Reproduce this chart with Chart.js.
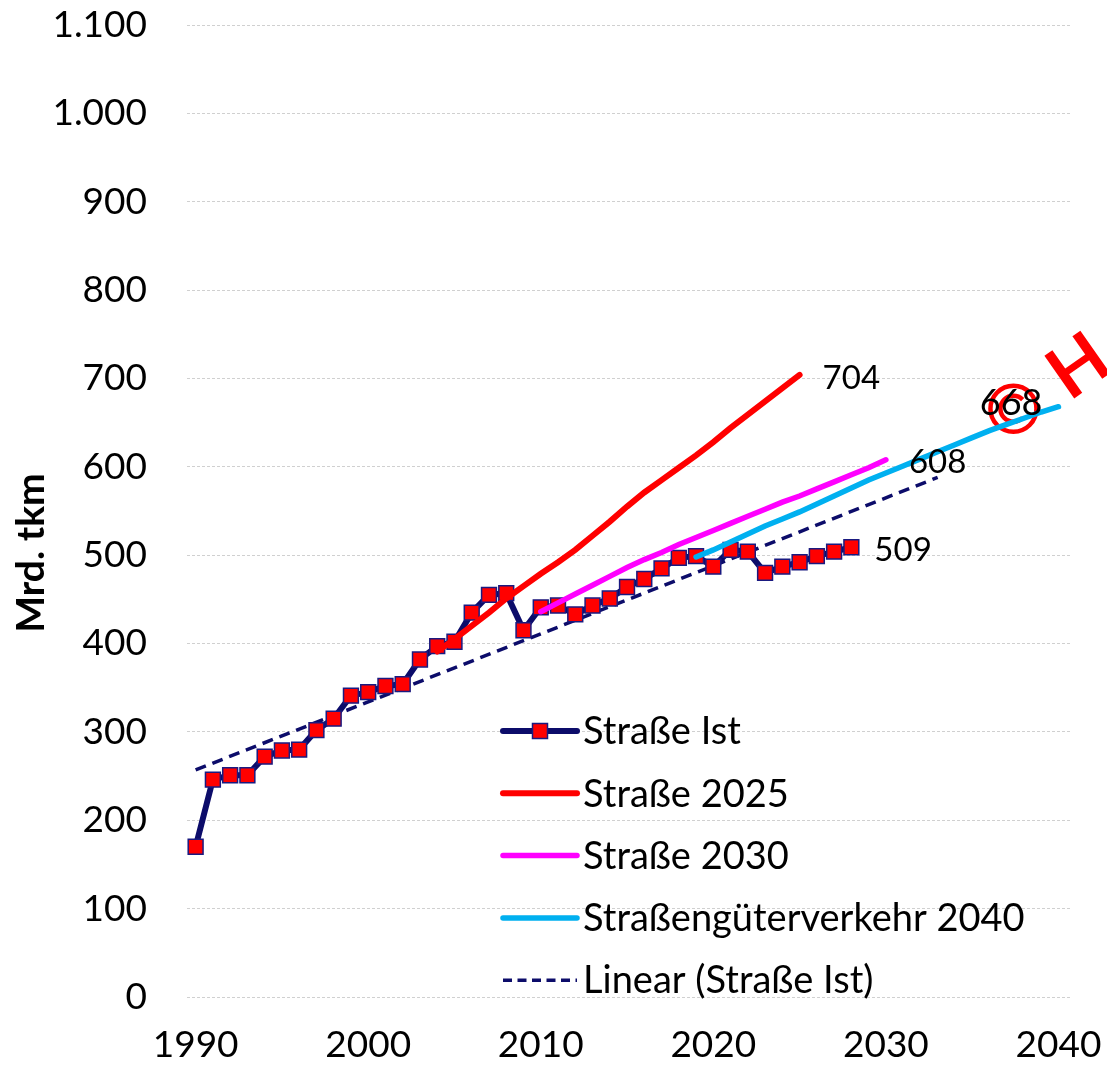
<!DOCTYPE html>
<html>
<head>
<meta charset="utf-8">
<script src="https://cdn.jsdelivr.net/npm/chart.js@4.4.1/dist/chart.umd.min.js"></script>
<style>
  html, body { margin: 0; padding: 0; background: #fff; }
  #wrap { width: 1107px; height: 1071px; }
</style>
</head>
<body>
<div id="wrap"><canvas id="chart" width="1107" height="1071"></canvas></div>
<script>
// Güterverkehr Straße: Ist-Werte, Prognosen und linearer Trend (Mrd. tkm)

const istYears = [1990,1991,1992,1993,1994,1995,1996,1997,1998,1999,2000,2001,2002,2003,2004,2005,2006,2007,2008,2009,
  2010,2011,2012,2013,2014,2015,2016,2017,2018,2019,2020,2021,2022,2023,2024,2025,2026,2027,2028];
const istValues = [170,246,251,251,272,279,280,302,315,341,345,352,354,382,397,402,435,455,457,415,
  441,443,433,443,451,464,473,485,497,499,487,506,504,480,487,492,499,504,509];

const p2025Years = [2004,2005,2006,2007,2008,2009,2010,2011,2012,2013,2014,2015,2016,2017,2018,2019,2020,2021,2022,2023,2024,2025];
const p2025Values = [391,405,420,435,451,465,479,492,506,522,538,555,571,585,599,613,628,644,659,674,689,704];

const p2030Years = [2010,2011,2012,2013,2014,2015,2016,2017,2018,2019,2020,2021,2022,2023,2024,2025,2026,2027,2028,2029,2030];
const p2030Values = [436,446,456,466,476,486,495,503,512,520,528,536,544,552,560,567,575,583,591,599,608];

const p2040Years = [2019,2020,2021,2022,2023,2024,2025,2026,2027,2028,2029,2030,2031,2032,2033,2034,2035,2036,2037,2038,2039,2040];
const p2040Values = [498,506,515,524,533,541,549,558,567,576,585,593,601,609,617,625,633,641,648,655,662,668];

const trendYears = [1990, 2033];
const trendValues = [257, 588];

const seriesNames = ['Straße Ist', 'Straße 2025', 'Straße 2030', 'Straßengüterverkehr 2040', 'Linear (Straße Ist)'];
const endLabels = ['509', '704', '608', '668', null];

const xTicks = [1990, 2000, 2010, 2020, 2030, 2040];
const yTicks = [0, 100, 200, 300, 400, 500, 600, 700, 800, 900, 1000, 1100];
const yTitle = 'Mrd. tkm';

const FONT = 'Lato, "Open Sans", sans-serif';
const NAVY = '#0c0c6a';

const pts = (xs, ys) => xs.map((x, i) => ({x, y: ys[i]}));
const fmtDE = v => v >= 1000 ? Math.floor(v / 1000) + '.' + String(v % 1000).padStart(3, '0') : String(v);

// legend drawn inside the plot area, like in the original
const innerLegend = {
  id: 'innerLegend',
  afterDraw(chart){
    const {ctx, chartArea} = chart;
    const x0 = chartArea.left + 316, x1 = x0 + 74, tx = x1 + 6;
    const y0 = chartArea.top + 706, step = 62.3;
    ctx.save();
    chart.data.datasets.forEach((ds, i) => {
      const y = y0 + i * step;
      ctx.beginPath();
      ctx.strokeStyle = ds.borderColor;
      ctx.lineWidth = ds.borderWidth;
      ctx.lineCap = ds.borderDash ? 'butt' : 'round';
      ctx.setLineDash(ds.borderDash ? [9, 5.5] : []);
      ctx.moveTo(x0, y); ctx.lineTo(x1, y);
      ctx.stroke();
      ctx.setLineDash([]);
      if (ds.pointRadius > 0) {
        const s = 15;
        ctx.fillStyle = ds.pointBackgroundColor;
        ctx.strokeStyle = ds.pointBorderColor;
        ctx.lineWidth = 1.5;
        ctx.fillRect((x0 + x1) / 2 - s / 2, y - s / 2, s, s);
        ctx.strokeRect((x0 + x1) / 2 - s / 2, y - s / 2, s, s);
      }
      ctx.fillStyle = '#000';
      ctx.font = '38px ' + FONT;
      ctx.textAlign = 'left';
      ctx.textBaseline = 'middle';
      ctx.fillText(ds.label, tx, y + 1);
    });
    ctx.restore();
  }
};

// value labels at the end of each line
const lineEndLabels = {
  id: 'lineEndLabels',
  afterDatasetsDraw(chart){
    const {ctx} = chart;
    ctx.save();
    ctx.fillStyle = '#000';
    ctx.textBaseline = 'middle';
    chart.data.datasets.forEach((ds, i) => {
      const txt = endLabels[i];
      if (!txt) return;
      const last = chart.getDatasetMeta(i).data.at(-1);
      if (i === 3) {
        ctx.font = '36px ' + FONT;
        ctx.textAlign = 'right';
        ctx.fillText(txt, last.x - 16, last.y - 3);
      } else {
        ctx.font = '33px ' + FONT;
        ctx.textAlign = 'left';
        ctx.fillText(txt, last.x + 23, last.y + 3);
      }
    });
    ctx.restore();
  }
};

// red copyright mark + rotated letter seen in the original picture
const watermark = {
  id: 'watermark',
  beforeDatasetsDraw(chart){
    const {ctx} = chart;
    const last = chart.getDatasetMeta(3).data.at(-1);
    const cx = last.x - 45, cy = last.y + 2;
    ctx.save();
    ctx.strokeStyle = '#ff0000';
    ctx.lineWidth = 4.5;
    ctx.beginPath(); ctx.arc(cx, cy, 23, 0, Math.PI * 2); ctx.stroke();
    ctx.beginPath(); ctx.arc(cx, cy, 13, Math.PI * 0.25, Math.PI * 1.75); ctx.stroke();
    ctx.restore();
  },
  afterDraw(chart){
    const {ctx} = chart;
    const last = chart.getDatasetMeta(3).data.at(-1);
    ctx.save();
    ctx.translate(last.x + 11, last.y - 5);
    ctx.rotate(-35 * Math.PI / 180);
    ctx.fillStyle = '#ff0000';
    ctx.font = 'bold 72px ' + FONT;
    ctx.textBaseline = 'alphabetic';
    ctx.fillText('H', 0, 0);
    ctx.restore();
  }
};

// rotated axis title, placed a bit below the middle like in the original
const axisTitle = {
  id: 'axisTitle',
  afterDraw(chart){
    const {ctx, chartArea} = chart;
    ctx.save();
    ctx.translate(31, chartArea.top + 528);
    ctx.rotate(-Math.PI / 2);
    ctx.fillStyle = '#000';
    ctx.font = 'bold 39px ' + FONT;
    ctx.textAlign = 'center';
    ctx.textBaseline = 'middle';
    ctx.fillText(yTitle, 0, 0);
    ctx.restore();
  }
};

new Chart(document.getElementById('chart'), {
  type: 'line',
  data: {
    datasets: [
      {label: seriesNames[0], data: pts(istYears, istValues), borderColor: NAVY, borderWidth: 6,
        pointStyle: 'rect', pointRadius: 10.5, pointBackgroundColor: '#ff0000', pointBorderColor: '#1a1a80',
        pointBorderWidth: 1.5, order: 4},
      {label: seriesNames[1], data: pts(p2025Years, p2025Values), borderColor: '#ff0000', borderWidth: 6,
        pointRadius: 0, order: 3, borderCapStyle: 'round'},
      {label: seriesNames[2], data: pts(p2030Years, p2030Values), borderColor: '#ff00ff', borderWidth: 5.5,
        pointRadius: 0, order: 2, borderCapStyle: 'round'},
      {label: seriesNames[3], data: pts(p2040Years, p2040Values), borderColor: '#00b0f0', borderWidth: 5.5,
        pointRadius: 0, order: 1, borderCapStyle: 'round'},
      {label: seriesNames[4], data: pts(trendYears, trendValues), borderColor: NAVY, borderWidth: 3.5,
        borderDash: [11, 7], pointRadius: 0, order: 5}
    ]
  },
  options: {
    responsive: false,
    animation: false,
    layout: {padding: {top: 0, right: 37, bottom: 0, left: 0}},
    plugins: {legend: {display: false}, tooltip: {enabled: false}},
    scales: {
      x: {
        type: 'linear', min: 1989.5, max: 2040.67,
        afterBuildTicks: s => { s.ticks = xTicks.map(v => ({value: v})); },
        afterFit: s => { s.height = 74; s.paddingLeft = 0; s.paddingRight = 0; },
        grid: {display: false},
        border: {display: false},
        ticks: {color: '#000', font: {family: FONT, size: 37}, padding: 18, maxRotation: 0, callback: v => String(v)}
      },
      y: {
        min: 0, max: 1100,
        afterBuildTicks: s => { s.ticks = yTicks.map(v => ({value: v})); },
        afterFit: s => { s.width = 187; s.paddingTop = 25; s.paddingBottom = 0; },
        grid: {color: '#d0d0d0', lineWidth: 1, drawTicks: false},
        border: {display: false, dash: [3, 2]},
        ticks: {color: '#000', font: {family: FONT, size: 37}, padding: 40, callback: v => fmtDE(v)}
      }
    }
  },
  plugins: [watermark, lineEndLabels, innerLegend, axisTitle]
});
</script>
</body>
</html>
